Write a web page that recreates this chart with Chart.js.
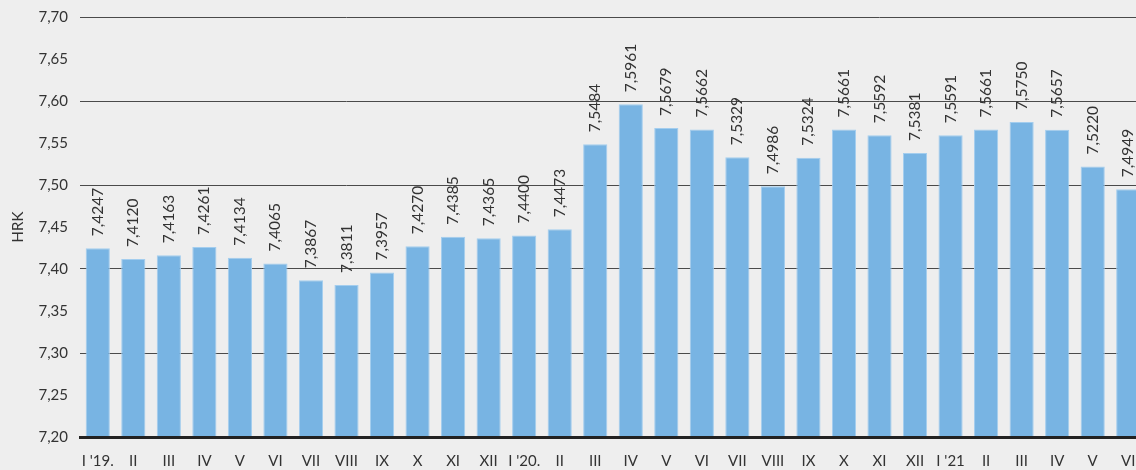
<!DOCTYPE html>
<html>
<head>
<meta charset="utf-8">
<script src="https://cdn.jsdelivr.net/npm/chart.js@4/dist/chart.umd.min.js"></script>
<style>
  html, body { margin: 0; padding: 0; background: #eeeeee; overflow: hidden; }
  #wrap { width: 1136px; height: 470px; overflow: hidden; }
  #box { width: 1146px; height: 470px; }
</style>
</head>
<body>
<div id="wrap"><div id="box"><canvas id="rateChart"></canvas></div></div>
<script>
// --- Data ---
const months = [
  "I '19.", "II", "III", "IV", "V", "VI", "VII", "VIII", "IX", "X", "XI", "XII",
  "I '20.", "II", "III", "IV", "V", "VI", "VII", "VIII", "IX", "X", "XI", "XII",
  "I '21", "II", "III", "IV", "V", "VI"
];
const rates = [
  7.4247, 7.4120, 7.4163, 7.4261, 7.4134, 7.4065, 7.3867, 7.3811, 7.3957, 7.4270, 7.4385, 7.4365,
  7.4400, 7.4473, 7.5484, 7.5961, 7.5679, 7.5662, 7.5329, 7.4986, 7.5324, 7.5661, 7.5592, 7.5381,
  7.5591, 7.5661, 7.5750, 7.5657, 7.5220, 7.4949
];
const yMin = 7.20;
const yMax = 7.70;
const yStep = 0.05;

const textColor = "#333333";
const fontFamily = "Lato, 'Open Sans', sans-serif";

const fmt = v => v.toFixed(4).replace(".", ",");

// --- Rotated value labels above each bar ---
const valueLabels = {
  id: "valueLabels",
  afterDatasetsDraw(chart) {
    const ctx = chart.ctx;
    const meta = chart.getDatasetMeta(0);
    ctx.save();
    ctx.fillStyle = textColor;
    ctx.font = "15.5px " + fontFamily;
    ctx.textAlign = "left";
    ctx.textBaseline = "middle";
    meta.data.forEach((bar, i) => {
      ctx.save();
      ctx.translate(bar.x, bar.y - 12);
      ctx.rotate(-Math.PI / 2);
      ctx.fillText(fmt(rates[i]), 0, 0);
      ctx.restore();
    });
    ctx.restore();
  }
};

new Chart(document.getElementById("rateChart"), {
  type: "bar",
  data: {
    labels: months,
    datasets: [{
      data: rates,
      backgroundColor: "#78b4e3",
      borderColor: "#a3cdee",
      borderWidth: 1,
      barPercentage: 0.68,
      categoryPercentage: 1
    }]
  },
  options: {
    responsive: true,
    maintainAspectRatio: false,
    animation: false,
    layout: { padding: { top: 17, right: 0, bottom: 0, left: 0 } },
    plugins: {
      legend: { display: false },
      tooltip: { enabled: false }
    },
    scales: {
      x: {
        grid: { display: false, drawTicks: false },
        border: { display: true, color: "#222222", width: 3, z: 1 },
        ticks: {
          color: textColor,
          font: { family: fontFamily, size: 15 },
          padding: 15,
          maxRotation: 0,
          autoSkip: false
        },
        afterFit(scale) { scale.height = 33; scale.paddingLeft = 0; scale.paddingRight = 0; }
      },
      y: {
        min: yMin,
        max: yMax,
        border: { display: false },
        grid: {
          drawTicks: false,
          lineWidth: 1,
          color: ctx => {
            const v = Math.round(ctx.tick.value * 100);
            if (v === 720) return "rgba(0,0,0,0)";
            return v % 10 === 0 ? "#4a4a4a" : "rgba(0,0,0,0)";
          }
        },
        ticks: {
          stepSize: yStep,
          color: textColor,
          font: { family: fontFamily, size: 15 },
          padding: 12,
          callback: v => v.toFixed(2).replace(".", ",")
        },
        title: {
          display: true,
          text: "HRK",
          color: textColor,
          font: { family: fontFamily, size: 15 },
          padding: { top: 9, bottom: 0 }
        },
        afterFit(scale) { scale.width = 80; scale.paddingTop = 0; scale.paddingBottom = 0; }
      }
    }
  },
  plugins: [valueLabels]
});
</script>
</body>
</html>
